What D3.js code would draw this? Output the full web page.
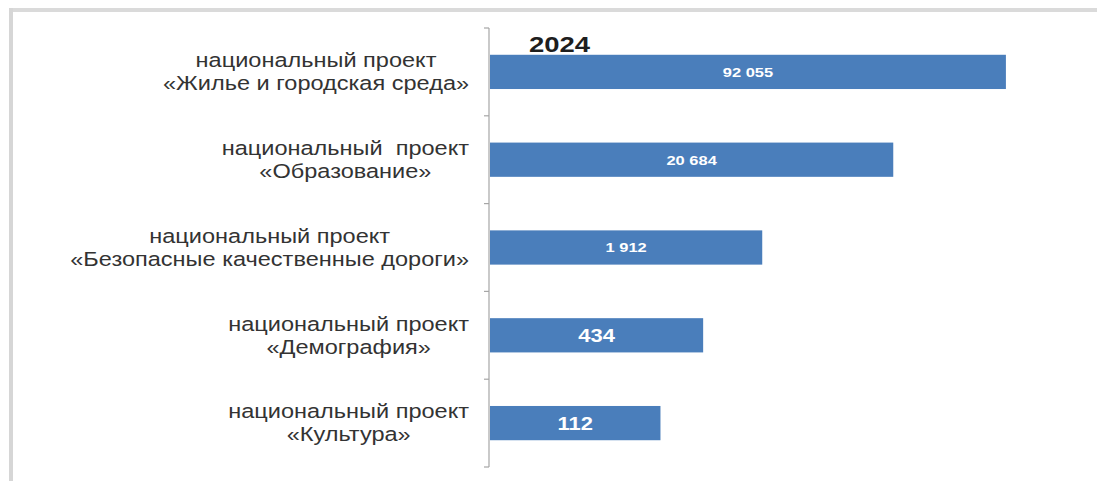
<!DOCTYPE html>
<html lang="ru">
<head>
<meta charset="utf-8">
<script src="https://cdn.jsdelivr.net/npm/d3@7"></script>
<style>
  html, body { margin: 0; padding: 0; background: #ffffff; }
  svg { display: block; }
  text { font-family: "Liberation Sans", Arial, sans-serif; white-space: pre; }
</style>
</head>
<body>
<svg id="chart" width="1097" height="481"></svg>
<script>
// National projects, 2024
const chartTitle = "2024";
const projectLines = [
  ["национальный проект", "«Жилье и городская среда»"],
  ["национальный  проект", "«Образование»"],
  ["национальный проект", "«Безопасные качественные дороги»"],
  ["национальный проект", "«Демография»"],
  ["национальный проект", "«Культура»"]
];
const projectKeys = ["housing", "education", "roads", "demography", "culture"];
const projectValues = [92055, 20684, 1912, 434, 112];
const valueLabels = ["92 055", "20 684", "1 912", "434", "112"];

const rows = projectKeys.map((k, i) => ({
  key: k, lines: projectLines[i], value: projectValues[i], label: valueLabels[i]
}));

const W = 1097, H = 481;
const SX = 1.22;               // horizontal text stretch
const axisX = 489;
const plotTop = 28, plotBottom = 467;
const barColor = "#4a7ebb";

const svg = d3.select("#chart");

// panel frame (top and left edges)
svg.append("rect").attr("x", 9).attr("y", 8).attr("width", W - 9).attr("height", 4).attr("fill", "#dadada");
svg.append("rect").attr("x", 9).attr("y", 8).attr("width", 4).attr("height", H - 8).attr("fill", "#d6d6d6");

const y = d3.scaleBand()
  .domain(projectKeys)
  .range([plotTop, plotBottom])
  .paddingInner(0.61)
  .paddingOuter(0.305);

// strongly compressed value axis so small and large projects are both visible
const x = d3.scalePow()
  .exponent(0.165)
  .domain([0, 100000])
  .range([axisX + 1, 1013]);

// category axis with ticks between categories
const gap = (y.step() - y.bandwidth()) / 2;
const boundaries = projectKeys.map(k => y(k) - gap).concat([y(projectKeys[projectKeys.length - 1]) + y.bandwidth() + gap]);
const axisG = svg.append("g").attr("class", "axis");
axisG.append("line")
  .attr("x1", axisX).attr("x2", axisX)
  .attr("y1", boundaries[0]).attr("y2", boundaries[boundaries.length - 1])
  .attr("stroke", "#a6a6a6").attr("stroke-width", 1.2);
axisG.selectAll("line.tick").data(boundaries).join("line")
  .attr("class", "tick")
  .attr("x1", axisX - 5).attr("x2", axisX)
  .attr("y1", d => d).attr("y2", d => d)
  .attr("stroke", "#a6a6a6").attr("stroke-width", 1.2);

// bars
svg.append("g").selectAll("rect").data(rows).join("rect")
  .attr("x", x.range()[0])
  .attr("y", d => y(d.key))
  .attr("width", d => x(d.value) - x.range()[0])
  .attr("height", y.bandwidth())
  .attr("fill", barColor);

// value labels centred in bars
svg.append("g").selectAll("text").data(rows).join("text")
  .attr("transform", d => `translate(${(x.range()[0] + x(d.value)) / 2},${y(d.key) + y.bandwidth() / 2}) scale(${SX},1)`)
  .attr("text-anchor", "middle")
  .attr("dy", "0.36em")
  .attr("fill", "#ffffff")
  .attr("font-weight", "bold")
  .attr("font-size", d => d.value < 1000 ? 18 : 13.5)
  .text(d => d.label);

// category labels: block right-aligned to the axis, lines centred in the block
const labelRight = 469;
const lineGap = 23;
const labelG = svg.append("g").selectAll("g").data(rows).join("g");
labelG.each(function (d) {
  const g = d3.select(this);
  const cy = y(d.key) + y.bandwidth() / 2;
  const texts = g.selectAll("text").data(d.lines).join("text")
    .attr("text-anchor", "middle")
    .attr("font-size", 19.3)
    .attr("fill", "#333333")
    .attr("y", (l, i) => (i - (d.lines.length - 1) / 2) * lineGap)
    .attr("dy", "0.35em")
    .text(l => l);
  const maxW = d3.max(texts.nodes(), n => n.getComputedTextLength());
  const cx = labelRight - maxW * SX / 2;
  g.attr("transform", `translate(${cx},${cy}) scale(${SX},1)`);
});

// title
svg.append("text")
  .attr("transform", `translate(529,52) scale(${SX},1)`)
  .attr("font-size", 22.5)
  .attr("font-weight", "bold")
  .attr("fill", "#1e1e1e")
  .text(chartTitle);
</script>
</body>
</html>
